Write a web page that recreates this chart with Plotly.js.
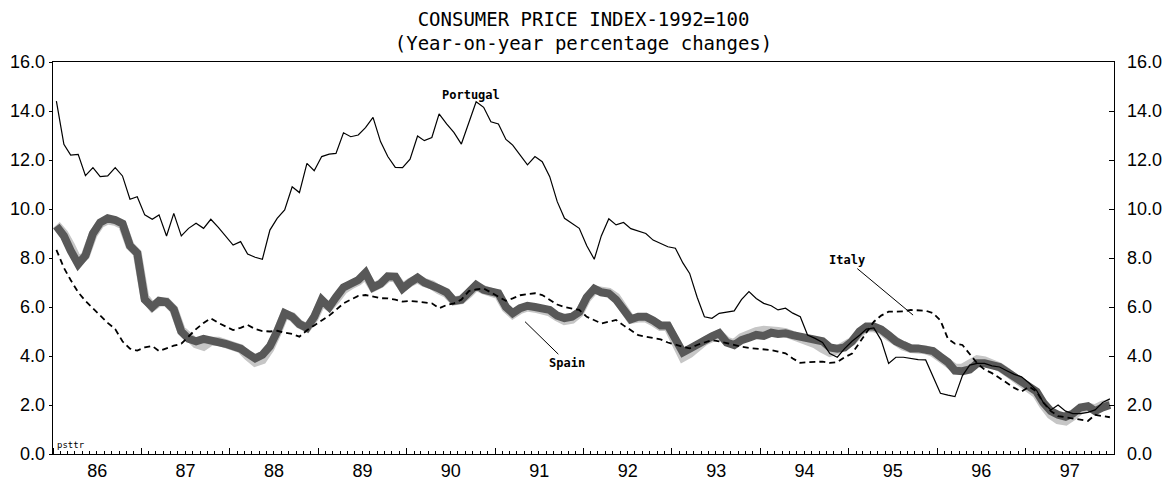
<!DOCTYPE html>
<html>
<head>
<meta charset="utf-8">
<script src="https://cdn.plot.ly/plotly-3.0.1.min.js"></script>
<style>html,body{margin:0;padding:0;background:#fff;}#chart{width:1169px;height:483px;}</style>
</head>
<body>
<div id="chart"></div>
<script>
// Monthly year-on-year CPI changes, Jan 1986 - Dec 1997
const startYear = 1986;
const endYear = 1997;

const portugal = [
 14.4,12.64,12.2,12.23,11.36,11.69,11.32,11.35,11.69,11.35,10.4,10.5,
 9.76,9.58,9.76,8.9,9.82,8.9,9.21,9.42,9.21,9.58,9.25,8.9,
 8.53,8.67,8.16,8.03,7.95,9.14,9.62,9.96,10.91,10.67,11.86,11.56,
 12.14,12.24,12.27,13.11,12.95,13.02,13.32,13.74,12.75,12.14,11.7,11.69,
 12.03,12.98,12.79,12.92,13.88,13.47,13.13,12.65,13.5,14.38,14.15,13.56,
 13.47,12.84,12.61,12.2,11.8,12.14,11.93,11.32,10.3,9.62,9.4,9.21,
 8.5,7.95,8.9,9.6,9.35,9.45,9.2,9.1,9.0,8.73,8.6,8.46,
 8.4,7.8,7.37,6.4,5.6,5.54,5.74,5.8,5.84,6.3,6.63,6.35,
 6.15,6.05,5.88,5.95,5.75,5.6,4.86,4.72,4.55,4.1,3.95,4.3,
 4.6,4.85,5.1,5.15,4.65,3.7,3.95,3.95,3.9,3.85,3.84,3.2,
 2.48,2.4,2.34,3.2,3.63,3.7,3.7,3.6,3.55,3.4,3.25,3.15,
 2.9,2.6,2.1,1.8,2.0,1.75,1.65,1.65,1.7,1.8,2.1,2.25
];

const italy = [
 8.33,7.6,7.1,6.6,6.25,5.95,5.65,5.35,5.1,4.6,4.3,4.22,
 4.35,4.41,4.2,4.32,4.42,4.5,4.8,5.1,5.35,5.54,5.35,5.2,
 5.06,5.15,5.27,5.1,5.02,5.0,5.03,4.95,4.9,4.79,5.05,5.25,
 5.45,5.65,5.88,6.15,6.3,6.45,6.49,6.42,6.36,6.35,6.3,6.22,
 6.25,6.22,6.2,6.15,5.95,6.08,6.15,6.3,6.65,6.72,6.76,6.6,
 6.45,6.25,6.35,6.48,6.53,6.56,6.49,6.3,6.1,6.0,5.95,5.88,
 5.6,5.45,5.33,5.4,5.47,5.25,5.05,4.85,4.79,4.74,4.68,4.55,
 4.45,4.38,4.31,4.45,4.55,4.65,4.6,4.52,4.45,4.38,4.33,4.31,
 4.28,4.24,4.18,4.11,3.9,3.72,3.75,3.77,3.77,3.72,3.75,3.95,
 4.1,4.55,4.95,5.4,5.65,5.81,5.81,5.82,5.88,5.88,5.85,5.75,
 5.45,4.7,4.5,4.45,4.1,3.7,3.45,3.3,3.1,2.9,2.7,2.55,
 2.75,2.55,2.1,1.75,1.55,1.5,1.45,1.4,1.35,1.6,1.55,1.5
];

const spain = [
 9.3,8.9,8.3,7.75,8.1,9.0,9.45,9.62,9.55,9.4,8.5,8.2,
 6.3,6.0,6.25,6.2,5.9,5.0,4.7,4.6,4.7,4.65,4.6,4.5,
 4.4,4.3,4.1,3.9,4.05,4.4,5.0,5.75,5.6,5.3,5.15,5.6,
 6.3,6.0,6.4,6.8,6.95,7.1,7.4,6.8,6.95,7.25,7.24,6.75,
 7.0,7.2,7.0,6.9,6.75,6.6,6.25,6.3,6.6,6.9,6.7,6.62,
 6.56,6.0,5.75,5.95,6.05,6.0,5.95,5.88,5.65,5.55,5.6,5.8,
 6.4,6.75,6.6,6.55,6.3,5.9,5.5,5.6,5.6,5.45,5.25,5.25,
 4.7,4.15,4.3,4.5,4.65,4.8,4.93,4.55,4.45,4.65,4.75,4.86,
 4.82,4.95,4.9,4.93,4.85,4.8,4.75,4.72,4.6,4.35,4.3,4.35,
 4.6,5.0,5.2,5.2,5.08,4.85,4.6,4.45,4.31,4.31,4.28,4.2,
 3.97,3.75,3.4,3.38,3.45,3.7,3.7,3.65,3.55,3.35,3.15,2.95,
 2.75,2.55,2.1,1.75,1.6,1.52,1.65,1.9,1.95,1.75,1.9,2.0
];

// light grey band running alongside the Spain band
const spainGrey = [
 9.35,9.0,8.5,7.85,8.1,8.95,9.4,9.55,9.5,9.35,8.5,8.2,
 6.4,6.0,6.2,6.2,5.9,5.05,4.8,4.5,4.4,4.6,4.6,4.5,
 4.4,4.3,4.0,3.75,3.85,4.3,4.95,5.7,5.6,5.3,5.15,5.55,
 6.2,6.0,6.3,6.7,6.9,7.05,7.3,6.8,6.95,7.2,7.2,6.8,
 7.0,7.15,7.0,6.9,6.7,6.55,6.25,6.3,6.55,6.85,6.7,6.6,
 6.5,5.95,5.7,5.9,6.0,5.95,5.9,5.8,5.6,5.45,5.5,5.75,
 6.35,6.7,6.65,6.6,6.4,6.0,5.5,5.55,5.55,5.4,5.2,5.2,
 4.6,3.95,4.1,4.4,4.6,4.75,4.9,4.6,4.5,4.75,4.9,5.0,
 5.05,5.05,5.0,4.95,4.85,4.75,4.65,4.5,4.3,4.15,4.25,4.45,
 4.6,4.95,5.15,5.15,5.05,4.8,4.55,4.4,4.3,4.3,4.25,4.15,
 3.95,3.7,3.5,3.5,3.7,3.85,3.8,3.7,3.55,3.35,3.15,2.95,
 2.7,2.45,2.0,1.6,1.4,1.35,1.55,1.8,1.9,1.85,2.0,2.05
];

const titleText = 'CONSUMER PRICE INDEX-1992=100<br>(Year-on-year percentage changes)';
const seriesLabels = {portugal: 'Portugal', spain: 'Spain', italy: 'Italy'};
const sourceCode = 'psttr';

// month positions (mid-month) built from the period
const months = [];
for (let yr = startYear; yr <= endYear; yr++) {
  for (let m = 1; m <= 12; m++) {
    months.push(yr + '-' + String(m).padStart(2, '0') + '-15');
  }
}

const tickFont = {family: 'Liberation Sans, Arial, sans-serif', size: 18, color: '#000'};
const labelFont = {family: 'DejaVu Sans Mono, monospace', size: 12, color: '#000', weight: 'bold'};

const traces = [
  {x: months, y: spainGrey, type: 'scatter', mode: 'lines', name: 'Spain (grey)',
   line: {color: '#c6c6c6', width: 9}, hoverinfo: 'skip', showlegend: false},
  {x: months, y: spain, type: 'scatter', mode: 'lines', name: seriesLabels.spain,
   line: {color: '#585858', width: 8}, showlegend: false},
  {x: months, y: italy, type: 'scatter', mode: 'lines', name: seriesLabels.italy,
   line: {color: '#000', width: 1.8, dash: '6px,4px'}, showlegend: false},
  {x: months, y: portugal, type: 'scatter', mode: 'lines', name: seriesLabels.portugal,
   line: {color: '#000', width: 1.2}, showlegend: false},
  {x: [], y: [], type: 'scatter', mode: 'lines', yaxis: 'y2', showlegend: false, hoverinfo: 'skip'}
];

const layout = {
  width: 1169, height: 483,
  margin: {l: 53, r: 55, t: 62, b: 29, pad: 0},
  paper_bgcolor: '#fff', plot_bgcolor: '#fff',
  showlegend: false,
  title: {
    text: titleText,
    font: {family: 'DejaVu Sans Mono, monospace', size: 19, color: '#000'},
    x: 0.5, xref: 'paper', xanchor: 'center',
    y: 0.947, yref: 'container', yanchor: 'top'
  },
  xaxis: {
    type: 'date',
    range: [startYear + '-01-01', (endYear + 1) + '-01-01'],
    tick0: startYear + '-01-01', dtick: 'M12',
    tickformat: '%y', ticklabelmode: 'period',
    ticks: 'inside', ticklen: 6, tickwidth: 1, tickcolor: '#000',
    minor: {dtick: 'M1', tick0: startYear + '-01-01', ticks: 'inside', ticklen: 3, tickwidth: 1, tickcolor: '#000', showgrid: false},
    showline: true, linecolor: '#000', linewidth: 1.4, mirror: true,
    showgrid: false, zeroline: false,
    tickfont: tickFont
  },
  yaxis: {
    range: [0, 16], tick0: 0, dtick: 2, tickformat: '.1f',
    ticks: 'outside', ticklen: 3, tickcolor: '#000', tickwidth: 1,
    showline: true, linecolor: '#000', linewidth: 1.4,
    showgrid: false, zeroline: false,
    tickfont: tickFont, ticklabelstandoff: 0
  },
  yaxis2: {
    range: [0, 16], tick0: 0, dtick: 2, tickformat: '.1f',
    overlaying: 'y', side: 'right',
    ticks: 'inside', ticklen: 5, tickcolor: '#000', tickwidth: 1,
    showline: true, linecolor: '#000', linewidth: 1.4,
    showgrid: false, zeroline: false,
    tickfont: tickFont, ticklabelstandoff: 8
  },
  annotations: [
    {x: '1990-09-25', y: 14.65, xref: 'x', yref: 'y', text: seriesLabels.portugal,
     showarrow: false, font: labelFont},
    {x: '1991-05-05', y: 5.4, xref: 'x', yref: 'y', text: seriesLabels.spain,
     showarrow: true, arrowhead: 0, arrowwidth: 1, arrowcolor: '#000', ax: 42, ay: 41, font: labelFont},
    {x: '1995-09-24', y: 5.67, xref: 'x', yref: 'y', text: seriesLabels.italy,
     showarrow: true, arrowhead: 0, arrowwidth: 1, arrowcolor: '#000', ax: -66, ay: -55, font: labelFont},
    {x: 0, y: 0, xref: 'paper', yref: 'paper', xanchor: 'left', yanchor: 'bottom', xshift: 2, yshift: 2,
     text: sourceCode, showarrow: false,
     font: {family: 'DejaVu Sans Mono, monospace', size: 9, color: '#000'}}
  ]
};

Plotly.newPlot('chart', traces, layout, {staticPlot: true, displayModeBar: false});
</script>
</body>
</html>
